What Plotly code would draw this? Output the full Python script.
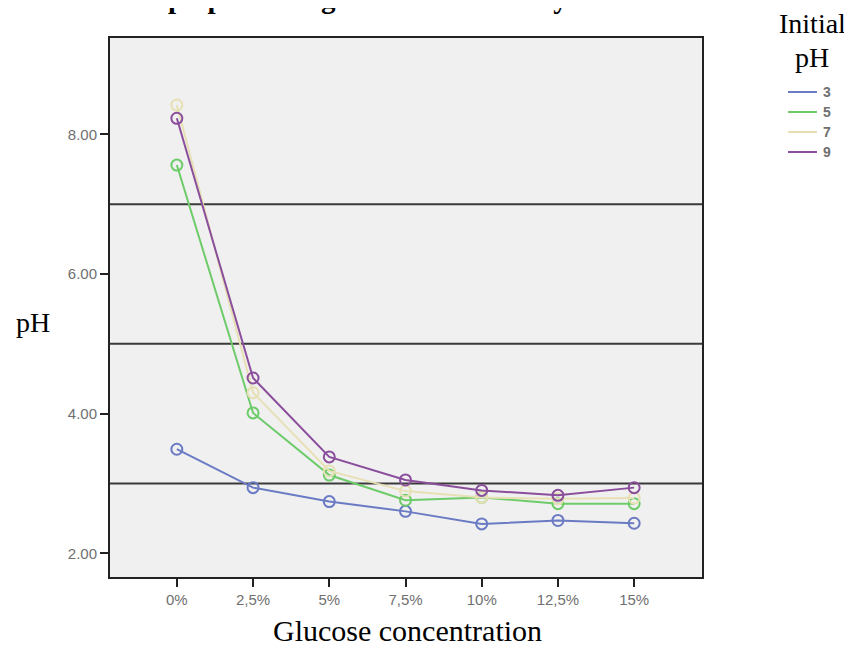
import plotly.graph_objects as go

categories = ["0%", "2,5%", "5%", "7,5%", "10%", "12,5%", "15%"]
series_names = ["3", "5", "7", "9"]
ph_3 = [3.49, 2.94, 2.74, 2.60, 2.42, 2.47, 2.43]
ph_5 = [7.56, 4.01, 3.12, 2.76, 2.80, 2.71, 2.71]
ph_7 = [8.42, 4.30, 3.18, 2.89, 2.80, 2.78, 2.79]
ph_9 = [8.23, 4.51, 3.38, 3.05, 2.90, 2.83, 2.94]
y_tick_vals = [2, 4, 6, 8]
y_tick_text = ["2.00", "4.00", "6.00", "8.00"]
ref_lines = [3, 5, 7]
colors = ["#6a7bc4", "#6dcb6a", "#e6e0b4", "#8a4e9c"]

series = [ph_3, ph_5, ph_7, ph_9]
x_idx = list(range(len(categories)))

fig = go.Figure()
for name, vals, col in zip(series_names, series, colors):
    fig.add_trace(go.Scatter(
        x=x_idx, y=vals, name=name, mode="lines+markers",
        line=dict(color=col, width=2),
        marker=dict(symbol="circle-open", size=11, color=col, line=dict(width=2)),
        showlegend=False,
    ))

for v in ref_lines:
    fig.add_shape(type="line", xref="paper", x0=0, x1=1, yref="y", y0=v, y1=v,
                  line=dict(color="#3a3a3a", width=2), layer="below")

tick_font = dict(family="Arial", size=15, color="#707070")
fig.update_xaxes(
    range=[-0.877, 6.89], tickmode="array", tickvals=x_idx, ticktext=categories,
    showgrid=False, zeroline=False, showline=True, linecolor="#222", linewidth=2,
    mirror=True, ticks="outside", ticklen=8, tickwidth=2, tickcolor="#222",
    tickfont=tick_font,
)
fig.update_yaxes(
    range=[1.66, 9.38], tickmode="array", tickvals=y_tick_vals, ticktext=y_tick_text,
    showgrid=False, zeroline=False, showline=True, linecolor="#222", linewidth=2,
    mirror=True, ticks="outside", ticklen=8, tickwidth=2, tickcolor="#222",
    tickfont=tick_font,
)

# page pixel -> paper coords (plot area on page: x 110..702, y 38..577)
def px(x):
    return (x - 110) / 592

def py(y):
    return (577 - y) / 539

serif = "Liberation Serif, Times New Roman, serif"
annotations = [
    dict(text="<b>Graph pH Changes After Seven Days of Fermentation</b>", xref="paper", yref="paper",
         x=px(452), y=py(16), xanchor="center", yanchor="bottom", showarrow=False,
         font=dict(family=serif, size=29, color="#000")),
    dict(text="pH", xref="paper", yref="paper", x=px(33), y=py(322),
         xanchor="center", yanchor="middle", showarrow=False,
         font=dict(family=serif, size=28, color="#000")),
    dict(text="Glucose concentration", xref="paper", yref="paper", x=px(407),
         y=py(630), xanchor="center", yanchor="middle", showarrow=False,
         font=dict(family=serif, size=30, color="#000")),
    dict(text="Initial", xref="paper", yref="paper", x=px(812),
         y=py(23), xanchor="center", yanchor="middle", showarrow=False,
         font=dict(family=serif, size=28, color="#000")),
    dict(text="pH", xref="paper", yref="paper", x=px(812),
         y=py(58), xanchor="center", yanchor="middle", showarrow=False,
         font=dict(family=serif, size=28, color="#000")),
]
legend_y = [92, 112, 132, 152]
for name, col, ly in zip(series_names, colors, legend_y):
    fig.add_shape(type="line", xref="paper", yref="paper",
                  x0=px(788), x1=px(817), y0=py(ly), y1=py(ly),
                  line=dict(color=col, width=2))
    annotations.append(dict(text="<b>" + name + "</b>", xref="paper", yref="paper",
                            x=px(821), y=py(ly), xanchor="left", yanchor="middle",
                            showarrow=False, font=dict(family="Arial", size=14, color="#707070")))

# the page body has an 8px margin, so the figure is laid out 8px up/left
fig.update_layout(
    width=852, height=646,
    margin=dict(l=102, r=158, t=30, b=77),
    paper_bgcolor="white", plot_bgcolor="#f0f0f0",
    annotations=annotations,
)

fig.write_html("out.html")
